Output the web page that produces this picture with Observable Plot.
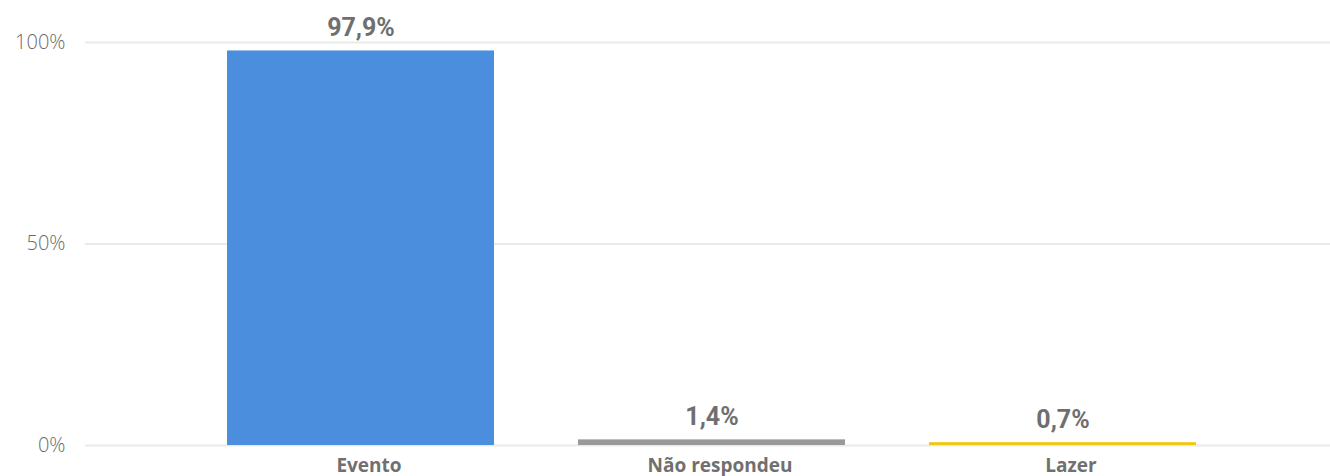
<!DOCTYPE html>
<html>
<head>
<meta charset="utf-8">
<script src="https://cdn.jsdelivr.net/npm/d3@7"></script>
<script src="https://cdn.jsdelivr.net/npm/@observablehq/plot@0.6"></script>
<style>
  html, body { margin: 0; padding: 0; background: #fff; }
  #chart svg { display: block; }
</style>
</head>
<body>
<div id="chart"></div>
<script>
const categories = ["Evento", "Não respondeu", "Lazer"];
const values = [97.9, 1.4, 0.7];
const yTicks = [0, 50, 100];
const barColors = ["#4A8EDD", "#999999", "#F2C80F"];

const data = categories.map((c, i) => ({category: c, value: values[i]}));
const fmt = v => v.toFixed(1).replace(".", ",") + "%";

const chart = Plot.plot({
  width: 1330,
  height: 476,
  marginLeft: 85,
  marginRight: 0,
  marginTop: 42,
  marginBottom: 31,
  style: {background: "#fff", overflow: "visible"},
  x: {domain: categories, range: [85, 1337], paddingInner: 0.24, paddingOuter: 0.401, label: null},
  y: {domain: [0, 100], label: null},
  color: {domain: categories, range: barColors},
  marks: [
    Plot.ruleY(yTicks, {stroke: "#EAEAEA", strokeWidth: 2}),
    Plot.barY(data, {x: "category", y: "value", fill: "category"}),
    Plot.text(data, {
      x: "category", y: "value", text: d => fmt(d.value),
      dy: -15, lineAnchor: "bottom",
      fontSize: 25, fontWeight: "bold", fill: "#6f6f6f",
      fontFamily: "Roboto", stroke: null, style: {letterSpacing: "-0.5px"}
    }),
    Plot.axisY({
      ticks: yTicks, tickFormat: d => d + "%", tickSize: 0, tickPadding: 20, label: null,
      fontSize: 20, fill: "#6a6a6a", fontFamily: "Open Sans", fontWeight: 300
    }),
    Plot.axisX({
      tickSize: 0, tickPadding: 13, dx: 8, label: null,
      fontSize: 19, fontWeight: "bold", fill: "#707070", fontFamily: "Open Sans"
    })
  ]
});
document.getElementById("chart").appendChild(chart);
</script>
</body>
</html>
